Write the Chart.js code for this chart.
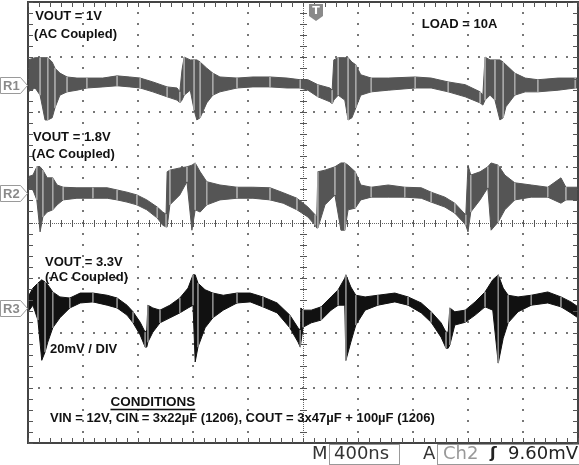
<!DOCTYPE html>
<html><head><meta charset="utf-8">
<script src="https://cdn.jsdelivr.net/npm/chart.js@4/dist/chart.umd.min.js"></script>
<style>html,body{margin:0;padding:0;background:#fff;}#wrap{position:relative;width:579px;height:465px;}</style>
</head><body><div id="wrap"><canvas id="c" width="579" height="465"></canvas></div>
<script>
// Time axis in divisions (400 ns/div), amplitude in divisions (20 mV/div)
const r1X  = [0.00,0.13,0.22,0.31,0.36,0.44,0.49,0.58,0.71,0.89,1.07,1.36,1.62,1.85,2.04,2.27,2.53,2.71,2.76,2.80,2.84,2.95,3.02,3.07,3.13,3.25,3.36,3.49,3.80,4.09,4.40,4.71,4.95,5.09,5.27,5.49,5.53,5.56,5.64,5.76,5.82,5.89,5.96,6.05,6.24,6.55,7.04,7.33,7.64,7.95,8.22,8.27,8.31,8.40,8.49,8.58,8.64,8.69,8.85,9.04,9.27,9.64,9.95,10.0];
const r1Hi = [2.95,2.99,2.99,2.99,2.99,2.91,2.80,2.71,2.64,2.62,2.62,2.62,2.66,2.64,2.62,2.55,2.46,2.44,2.37,2.77,3.00,2.95,2.95,2.95,2.91,2.80,2.71,2.64,2.62,2.64,2.64,2.62,2.59,2.59,2.50,2.44,2.40,2.95,2.99,2.99,2.99,2.91,2.86,2.68,2.62,2.62,2.64,2.62,2.55,2.50,2.37,2.31,3.00,2.95,2.95,2.95,2.91,2.86,2.71,2.62,2.59,2.62,2.62,2.62];
const r1Lo = [2.37,2.44,2.31,1.86,1.86,1.90,2.08,2.31,2.37,2.40,2.44,2.46,2.48,2.46,2.44,2.37,2.28,2.22,2.17,2.22,2.31,2.40,2.04,1.86,1.90,2.17,2.31,2.37,2.44,2.46,2.46,2.44,2.44,2.40,2.28,2.19,2.15,2.22,2.31,2.22,1.86,1.90,2.08,2.31,2.37,2.40,2.44,2.44,2.37,2.28,2.17,2.13,2.22,2.31,2.22,1.86,1.90,2.10,2.31,2.37,2.37,2.40,2.44,2.44];

const r2X  = [0.00,0.09,0.16,0.22,0.27,0.35,0.45,0.53,0.64,0.89,1.18,1.44,1.62,1.80,1.98,2.16,2.35,2.45,2.51,2.53,2.58,2.76,2.89,2.98,3.04,3.13,3.25,3.49,3.80,4.09,4.40,4.64,4.89,5.09,5.22,5.25,5.27,5.40,5.58,5.69,5.76,5.82,5.95,6.05,6.24,6.55,6.85,7.15,7.33,7.58,7.76,7.91,7.96,8.00,8.05,8.22,8.36,8.42,8.55,8.67,8.85,9.15,9.45,9.69,9.78,10.00];
const r2Hi = [0.83,0.86,1.01,1.01,0.95,0.81,0.81,0.68,0.64,0.63,0.63,0.63,0.59,0.55,0.50,0.41,0.28,0.19,0.15,0.92,0.95,0.99,1.01,1.04,1.08,0.92,0.74,0.68,0.64,0.64,0.63,0.54,0.44,0.28,0.14,0.10,0.92,0.95,1.01,1.08,1.08,1.04,0.92,0.68,0.64,0.68,0.64,0.63,0.55,0.46,0.35,0.19,0.14,1.04,0.86,0.92,1.01,1.08,1.04,0.86,0.72,0.68,0.64,0.81,0.64,0.64];
const r2Lo = [0.63,0.59,0.41,-0.17,0.10,0.19,0.23,0.32,0.41,0.44,0.44,0.44,0.41,0.37,0.32,0.23,0.08,-0.05,-0.08,-0.08,0.32,0.50,0.74,-0.14,0.23,0.19,0.32,0.41,0.44,0.44,0.41,0.35,0.23,0.10,-0.05,-0.10,-0.10,0.32,0.50,-0.14,-0.14,0.23,0.26,0.41,0.46,0.46,0.46,0.44,0.37,0.28,0.17,0.01,-0.05,-0.17,0.19,0.41,0.63,-0.14,0.01,0.23,0.41,0.46,0.46,0.35,0.41,0.41];

const r3X  = [0.00,0.09,0.18,0.25,0.31,0.36,0.45,0.58,0.76,0.95,1.18,1.44,1.62,1.80,1.91,2.04,2.13,2.16,2.18,2.27,2.40,2.58,2.76,2.91,3.00,3.04,3.09,3.22,3.36,3.55,3.80,4.04,4.27,4.53,4.76,4.91,4.95,4.96,5.00,5.15,5.33,5.51,5.64,5.76,5.78,5.87,5.96,6.13,6.36,6.67,6.91,7.15,7.33,7.51,7.60,7.64,7.67,7.76,7.95,8.13,8.31,8.45,8.55,8.64,8.73,8.91,9.15,9.45,9.69,9.87,10.00];
const r3Hi = [-1.35,-1.19,-1.10,-1.04,-1.08,-1.13,-1.26,-1.35,-1.37,-1.28,-1.28,-1.32,-1.37,-1.50,-1.62,-1.81,-1.99,-1.95,-1.50,-1.55,-1.59,-1.50,-1.37,-1.19,-0.95,-0.95,-1.10,-1.22,-1.28,-1.32,-1.28,-1.28,-1.35,-1.46,-1.68,-1.91,-1.95,-1.55,-1.59,-1.59,-1.53,-1.35,-1.22,-1.01,-0.95,-1.17,-1.32,-1.35,-1.32,-1.28,-1.35,-1.46,-1.62,-1.82,-1.99,-1.99,-1.55,-1.62,-1.59,-1.44,-1.26,-1.04,-0.95,-1.19,-1.32,-1.35,-1.32,-1.26,-1.35,-1.44,-1.53];
const r3Lo = [-1.62,-1.50,-1.77,-2.50,-2.35,-2.17,-1.91,-1.73,-1.55,-1.46,-1.44,-1.50,-1.55,-1.68,-1.82,-2.04,-2.26,-2.26,-2.17,-1.99,-1.82,-1.73,-1.64,-1.55,-1.50,-2.53,-2.26,-1.91,-1.73,-1.59,-1.46,-1.44,-1.53,-1.64,-1.91,-2.17,-2.26,-2.26,-1.90,-1.82,-1.77,-1.59,-1.50,-1.50,-2.50,-2.17,-1.86,-1.59,-1.50,-1.44,-1.50,-1.64,-1.81,-2.08,-2.28,-2.28,-2.22,-1.86,-1.81,-1.68,-1.53,-1.59,-2.55,-2.10,-1.82,-1.62,-1.50,-1.46,-1.53,-1.64,-1.73];

// Reference markers (divisions) and labels
const refNames  = ["R1","R2","R3"];
const refLevels = [2.50, 0.54, -1.55];
const triggerPos = 5.24;
const labels = [
  {t:"VOUT = 1V", x:0.13, y:3.74},
  {t:"(AC Coupled)", x:0.11, y:3.42},
  {t:"LOAD = 10A", x:7.16, y:3.60},
  {t:"VOUT = 1.8V", x:0.09, y:1.55},
  {t:"(AC Coupled)", x:0.07, y:1.24},
  {t:"VOUT = 3.3V", x:0.31, y:-0.72},
  {t:"(AC Coupled)", x:0.31, y:-1.00},
  {t:"20mV / DIV", x:0.40, y:-2.30},
  {t:"VIN = 12V, CIN = 3x22µF (1206), COUT = 3x47µF + 100µF (1206)", x:0.40, y:-3.56}
];
const condTitle = "CONDITIONS";
const timeBase = "400ns";
const trigSrc = "Ch2";
const trigLevel = "9.60mV";

const pts = (xs, ys) => xs.map((x, i) => ({x: x, y: ys[i]}));
// vertical ringing strokes at every other reading, broken by gaps
const strokes = (xs, hi, lo) => xs.flatMap((x, i) => i % 2 ? [] : [{x: x, y: hi[i]}, {x: x, y: lo[i]}, {x: x, y: null}]);
function trace(xs, hi, lo, col, streak) {
  return [
    {data: pts(xs, hi), borderColor: col, borderWidth: 1, pointRadius: 0, fill: false, tension: 0, order: 1},
    {data: pts(xs, lo), borderColor: col, borderWidth: 1, pointRadius: 0, fill: '-1', backgroundColor: col, tension: 0, order: 1},
    {data: strokes(xs, hi, lo), borderColor: streak, borderWidth: 1, pointRadius: 0, fill: false, spanGaps: false, tension: 0, order: 0}
  ];
}

const scope = {
  id: 'scope',
  beforeDatasetsDraw(chart) {
    const {ctx, chartArea: a, scales: {x, y}} = chart;
    ctx.save();
    ctx.fillStyle = '#777';
    for (let i = 1; i < 10; i++) {
      if (i === 5) continue;
      const px = Math.round(x.getPixelForValue(i));
      for (let j = 0; j <= 40; j++) {
        const py = Math.round(y.getPixelForValue(-4 + j * 0.2));
        ctx.fillRect(px - 1, py - 1, 2, 2);
      }
    }
    for (let k = -3; k <= 3; k++) {
      if (k === 0) continue;
      const py = Math.round(y.getPixelForValue(k));
      for (let j = 0; j <= 50; j++) {
        const px = Math.round(x.getPixelForValue(j * 0.2));
        ctx.fillRect(px - 1, py - 1, 2, 2);
      }
    }
    const cx = Math.round(x.getPixelForValue(5));
    const cy = Math.round(y.getPixelForValue(0));
    ctx.fillStyle = '#666';
    for (let px = a.left; px < a.right; px += 2) ctx.fillRect(px, cy, 1, 1);
    for (let py = a.top; py < a.bottom; py += 2) ctx.fillRect(cx, py, 1, 1);
    ctx.fillStyle = '#555';
    for (let j = 0; j <= 50; j++) {
      const px = Math.round(x.getPixelForValue(j * 0.2));
      ctx.fillRect(px, cy - 3, 1, 7);
    }
    for (let j = 0; j <= 40; j++) {
      const py = Math.round(y.getPixelForValue(-4 + j * 0.2));
      ctx.fillRect(cx - 3, py, 7, 1);
    }
    ctx.restore();
  },
  afterDatasetsDraw(chart) {
    const {ctx, chartArea: a, scales: {x, y}} = chart;
    ctx.save();
    ctx.strokeStyle = '#444';
    ctx.lineWidth = 2;
    ctx.strokeRect(a.left, a.top, a.right - a.left, a.bottom - a.top);
    ctx.fillStyle = '#555';
    for (let j = 0; j <= 50; j++) {
      const px = Math.round(x.getPixelForValue(j * 0.2));
      ctx.fillRect(px, a.top, 1, 5);
      ctx.fillRect(px, a.bottom - 5, 1, 5);
    }
    for (let j = 0; j <= 40; j++) {
      const py = Math.round(y.getPixelForValue(-4 + j * 0.2));
      ctx.fillRect(a.left, py, 5, 1);
      ctx.fillRect(a.right - 5, py, 5, 1);
    }
    ctx.font = 'bold 13px "Liberation Sans", Arial, sans-serif';
    ctx.textBaseline = 'middle';
    ctx.textAlign = 'left';
    refNames.forEach((n, i) => {
      const py = Math.round(y.getPixelForValue(refLevels[i])) + 0.5;
      ctx.beginPath();
      ctx.moveTo(0.5, py - 8); ctx.lineTo(20.5, py - 8); ctx.lineTo(27.5, py);
      ctx.lineTo(20.5, py + 8); ctx.lineTo(0.5, py + 8); ctx.closePath();
      ctx.fillStyle = '#fff'; ctx.fill();
      ctx.strokeStyle = '#9a9a9a'; ctx.lineWidth = 1; ctx.stroke();
      ctx.fillStyle = '#8a8a8a';
      ctx.fillText(n, 3, py + 1);
    });
    const tx = Math.round(x.getPixelForValue(triggerPos));
    ctx.fillStyle = '#8a8a8a';
    ctx.beginPath();
    ctx.moveTo(tx - 7, a.top + 2); ctx.lineTo(tx + 7, a.top + 2); ctx.lineTo(tx + 7, a.top + 14);
    ctx.lineTo(tx, a.top + 19); ctx.lineTo(tx - 7, a.top + 14); ctx.closePath(); ctx.fill();
    ctx.fillStyle = '#fff';
    ctx.font = 'bold 11px "DejaVu Sans", sans-serif';
    ctx.textAlign = 'center';
    ctx.fillText('T', tx, a.top + 9);
    ctx.fillStyle = '#111';
    ctx.textAlign = 'left';
    ctx.font = 'bold 13px "Liberation Sans", Arial, sans-serif';
    labels.forEach(l => ctx.fillText(l.t, x.getPixelForValue(l.x), y.getPixelForValue(l.y)));
    const cxp = x.getPixelForValue(2.27), cyp = y.getPixelForValue(-3.26);
    ctx.textAlign = 'center';
    ctx.font = 'bold 13.5px "Liberation Sans", Arial, sans-serif';
    ctx.fillText(condTitle, cxp, cyp);
    const w = ctx.measureText(condTitle).width;
    ctx.fillRect(cxp - w / 2, cyp + 6.5, w, 1.6);
    const by = a.bottom + 11;
    ctx.font = '18px "DejaVu Sans", sans-serif';
    ctx.textAlign = 'left';
    ctx.fillStyle = '#333';
    ctx.fillText('M', 312, by);
    ctx.strokeStyle = '#999'; ctx.lineWidth = 1;
    ctx.strokeRect(329.5, a.bottom + 1.5, 70, 20);
    ctx.fillText(timeBase, 334, by);
    ctx.fillText('A', 423, by);
    ctx.strokeRect(437.5, a.bottom + 1.5, 145, 20);
    ctx.fillStyle = '#999';
    ctx.fillText(trigSrc, 443, by);
    ctx.fillStyle = '#222';
    ctx.font = 'bold 16px "DejaVu Sans", sans-serif';
    ctx.fillText('ʃ', 490, by);
    ctx.font = '18px "DejaVu Sans", sans-serif';
    ctx.textAlign = 'right';
    ctx.fillText(trigLevel, 578, by);
    ctx.restore();
  }
};

new Chart(document.getElementById('c'), {
  type: 'line',
  data: {datasets: [
    ...trace(r1X, r1Hi, r1Lo, '#555', '#a8a8a8'),
    ...trace(r2X, r2Hi, r2Lo, '#555', '#a8a8a8'),
    ...trace(r3X, r3Hi, r3Lo, '#111', '#8a8a8a')
  ]},
  options: {
    responsive: false, animation: false, devicePixelRatio: 1,
    layout: {padding: {left: 28, right: 1, top: 2, bottom: 22}},
    plugins: {legend: {display: false}, tooltip: {enabled: false}},
    scales: {
      x: {type: 'linear', min: 0, max: 10, display: false},
      y: {type: 'linear', min: -4, max: 4, display: false}
    }
  },
  plugins: [scope]
});
</script></body></html>
